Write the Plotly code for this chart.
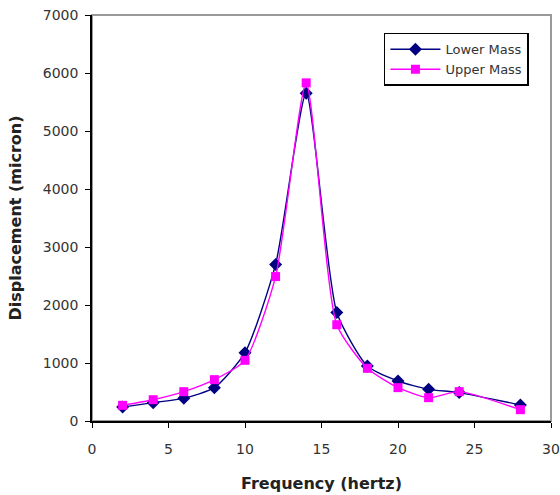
import plotly.graph_objects as go

freq = [2, 4, 6, 8, 10, 12, 14, 16, 18, 20, 22, 24, 28]
lower_mass = [240, 316, 391, 575, 1178, 2700, 5650, 1870, 948, 690, 546, 490, 276]
upper_mass = [270, 367, 506, 713, 1046, 2490, 5830, 1660, 908, 575, 402, 506, 195]

fig = go.Figure()
fig.add_trace(go.Scatter(
    x=freq, y=lower_mass, name="Lower Mass", mode="lines+markers",
    line=dict(color="#000080", width=1.4, shape="spline", smoothing=0.6),
    marker=dict(symbol="diamond", size=10, color="#000080"),
))
fig.add_trace(go.Scatter(
    x=freq, y=upper_mass, name="Upper Mass", mode="lines+markers",
    line=dict(color="#FF00FF", width=1.4, shape="spline", smoothing=0.6),
    marker=dict(symbol="square", size=9, color="#FF00FF"),
))

fig.add_shape(type="rect", xref="paper", yref="paper", x0=0, y0=0, x1=1, y1=1,
              line=dict(color="#999999", width=2), layer="below")

fig.update_layout(
    width=560, height=495,
    margin=dict(l=92, r=9, t=15, b=74),
    paper_bgcolor="white", plot_bgcolor="white",
    font=dict(family="DejaVu Sans, Liberation Sans, sans-serif", size=14, color="#333333"),
    showlegend=True,
    legend=dict(x=0.636, y=0.956, xanchor="left", yanchor="top",
                bgcolor="white", bordercolor="black", borderwidth=1.5,
                font=dict(size=13, color="#333333"),
                tracegroupgap=0, itemwidth=50),
    xaxis=dict(range=[0, 30], dtick=5, showgrid=False, zeroline=False, automargin=False,
               showline=True, linecolor="black", linewidth=1.5,
               ticks="outside", ticklen=5, tickcolor="black", ticklabelstandoff=9,
               title=dict(text="<b>Frequency (hertz)</b>", font=dict(size=16, color="#222222"), standoff=22)),
    yaxis=dict(range=[0, 7000], dtick=1000, showgrid=False, zeroline=False, automargin=False,
               showline=True, linecolor="black", linewidth=1.5,
               ticks="outside", ticklen=5, tickcolor="black", ticklabelstandoff=4,
               title=dict(text="<b>Displacement (micron)</b>", font=dict(size=16, color="#222222"), standoff=17)),
)

fig.write_html("out.html")
